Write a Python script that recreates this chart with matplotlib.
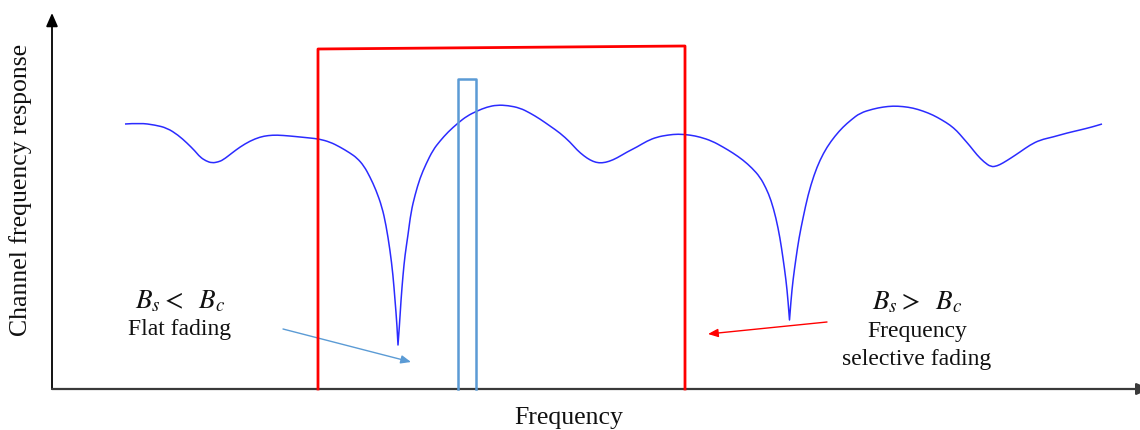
import matplotlib
matplotlib.use("Agg")
import matplotlib.pyplot as plt
from matplotlib.path import Path
from matplotlib.patches import PathPatch

plt.rcParams['font.family'] = ['Liberation Serif', 'DejaVu Serif']
plt.rcParams['mathtext.fontset'] = 'stix'

# Channel frequency response curve (frequency, response)
freq = [125, 140, 155, 167, 178, 187, 195, 200, 206, 212, 218, 223, 232, 240, 250, 260, 268, 277,
        290, 300, 310, 319, 330, 340, 350, 357, 364, 370, 376, 382, 386, 390, 393, 395, 397, 398,
        399.5, 401, 403, 405, 408, 411, 415, 420, 426, 433, 440, 448, 458, 467, 477, 487, 497, 508,
        520, 530, 540, 550, 560, 570, 577, 584, 590, 596, 602, 609, 617, 627, 637, 647, 657, 668,
        678, 690, 700, 712, 723, 733, 743, 752, 760, 766, 771, 776, 780, 783, 786, 788, 789.5, 791,
        793, 796, 799, 803, 808, 814, 820, 827, 835, 843, 851, 860, 873, 883, 893, 903, 913, 923,
        933, 942, 950, 957, 963, 970, 977, 984, 991, 997, 1003, 1011, 1020, 1030, 1040, 1053, 1067,
        1080, 1092, 1102]
response = [265, 266, 264, 261, 254, 246, 238, 232, 228, 226, 227, 229, 236, 242, 248, 252, 253.5, 254,
            253, 252, 251, 250, 247, 242, 236, 231, 223, 212, 199, 182, 164, 139, 114, 89, 64, 44,
            64, 89, 114, 134, 154, 177, 194, 211, 225, 239, 248, 257, 266, 273, 278, 282, 284, 283.5,
            281, 276, 270, 263, 256, 247, 239, 233, 229, 226.5, 226, 227.5, 231, 237, 242, 248, 252, 254,
            255, 254, 252, 248, 242, 236, 229, 221, 212, 201, 189, 171, 151, 131, 109, 89, 69, 89,
            109, 131, 151, 171, 194, 214, 229, 242, 253, 262, 269, 276, 280, 282, 283, 282.5, 281, 278,
            274, 269, 264, 258, 251, 243, 234, 227, 222, 223, 226, 231, 237, 244, 249, 252, 256,
            259, 262, 265]
cusp_freqs = [398, 789.5]   # sharp notches (kept as corners)

# Signal bandwidths
wide_band_edges = [318, 685]
wide_band_heights = [340, 343]
narrow_band_edges = [458, 476]
narrow_band_height = 310

# Texts
ylabel_text = "Channel frequency response"
xlabel_text = "Frequency"
flat_cond = r"$B_s <\;\ B_c$"
flat_label = "Flat fading"
sel_cond = r"$B_s >\;\ B_c$"
sel_label1 = "Frequency"
sel_label2 = "selective fading"

fig = plt.figure(figsize=(11.4, 4.3), dpi=100)
ax = fig.add_axes([0, 0, 1, 1])
ax.set_xlim(0, 1140)
ax.set_ylim(-41, 389)
ax.axis('off')

axis_color = '#3a3a3a'
# axes with arrows
ax.annotate('', xy=(52, 376), xytext=(52, 0), annotation_clip=False,
            arrowprops=dict(arrowstyle='-|>,head_length=0.8,head_width=0.35', color='black', lw=1.3,
                            shrinkA=0, shrinkB=0))
ax.annotate('', xy=(1150, 0), xytext=(52, 0), annotation_clip=False,
            arrowprops=dict(arrowstyle='-|>,head_length=0.8,head_width=0.35', color=axis_color, lw=1.6,
                            shrinkA=0, shrinkB=0))

# channel response: smooth quadratic path through the read points, corners at the notches
pts = list(zip(freq, response))
verts = [pts[0]]
codes = [Path.MOVETO]
n = len(pts)
for i in range(1, n - 1):
    p = pts[i]
    if p[0] in cusp_freqs:
        verts.append(p)
        codes.append(Path.LINETO)
        continue
    nxt = pts[i + 1]
    if nxt[0] in cusp_freqs:
        end = nxt
    else:
        end = ((p[0] + nxt[0]) / 2, (p[1] + nxt[1]) / 2)
    verts += [p, end]
    codes += [Path.CURVE3, Path.CURVE3]
verts.append(pts[-1])
codes.append(Path.LINETO)
ax.add_patch(PathPatch(Path(verts, codes), facecolor='none', edgecolor='#2b2bff', lw=1.1,
                       zorder=3, joinstyle='round'))

# wide band (red)
ax.plot([wide_band_edges[0], wide_band_edges[0], wide_band_edges[1], wide_band_edges[1]],
        [0, wide_band_heights[0], wide_band_heights[1], 0],
        color='#ff0000', lw=2.0, zorder=4, solid_joinstyle='round')

# narrow band (light blue)
ax.plot([narrow_band_edges[0], narrow_band_edges[0], narrow_band_edges[1], narrow_band_edges[1]],
        [0, narrow_band_height, narrow_band_height, 0],
        color='#5b9bd5', lw=1.8, zorder=4, solid_joinstyle='round')

# annotations
fs = 17
mfs = 19.5
ax.text(180, 87, flat_cond, ha='center', va='center', fontsize=mfs, color='#111111')
ax.text(180, 59, flat_label, ha='center', va='center', fontsize=fs, color='#111111')
ax.annotate('', xy=(411, 27), xytext=(283, 60),
            arrowprops=dict(arrowstyle='-|>,head_length=0.6,head_width=0.25', color='#5b9bd5', lw=1.0,
                            shrinkA=0, shrinkB=0))

ax.text(917, 86, sel_cond, ha='center', va='center', fontsize=mfs, color='#111111')
ax.text(917, 57, sel_label1, ha='center', va='center', fontsize=fs, color='#111111')
ax.text(917, 30, sel_label2, ha='center', va='center', fontsize=fs, color='#111111')
ax.annotate('', xy=(708, 55), xytext=(827, 67),
            arrowprops=dict(arrowstyle='-|>,head_length=0.6,head_width=0.25', color='#ff0000', lw=1.0,
                            shrinkA=0, shrinkB=0))

ax.text(569, -29, xlabel_text, ha='center', va='center', fontsize=18.5, color='#111111')
ax.text(21, 199, ylabel_text, ha='center', va='center', rotation=90, fontsize=18.5, color='#111111')

fig.savefig('out.png', dpi=100)
